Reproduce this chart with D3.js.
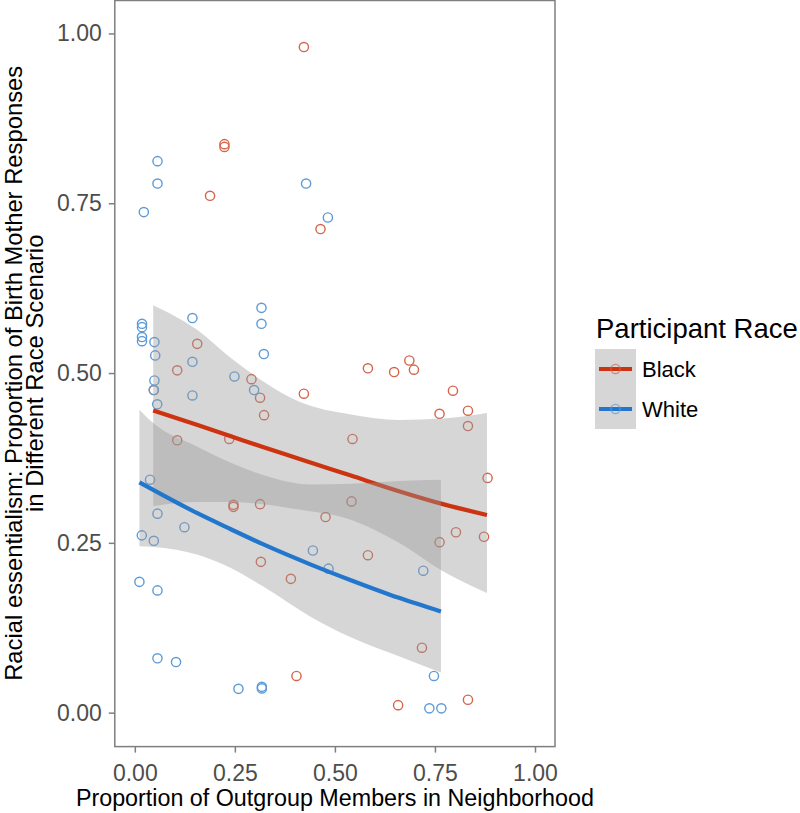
<!DOCTYPE html>
<html><head><meta charset="utf-8">
<script src="https://cdn.jsdelivr.net/npm/d3@7"></script>
<style>body{margin:0;background:#fff} text{font-family:"Liberation Sans",Arial,Helvetica,sans-serif}</style>
</head><body><svg id="c" width="800" height="813"></svg>
<script>
// ---------- data ----------
const groups = ["Black", "White"];
const blackX = [0.0475,0.4225,0.224,0.224,0.188,0.464,0.156,0.106,0.2915,0.313,0.323,0.4225,0.236,0.106,0.5825,0.648,0.686,0.6975,0.795,0.7615,0.8325,0.8325,0.544,0.8815,0.5415,0.2466,0.2466,0.313,0.4766,0.315,0.39,0.404,0.8025,0.7615,0.8725,0.5825,0.7175,0.658,0.8325];
const blackY = [0.475,0.980,0.837,0.833,0.761,0.712,0.543,0.504,0.491,0.4637,0.438,0.4696,0.403,0.401,0.507,0.5015,0.5185,0.505,0.474,0.440,0.4446,0.422,0.403,0.3456,0.311,0.306,0.303,0.307,0.288,0.222,0.197,0.054,0.2656,0.251,0.259,0.2318,0.0956,0.011,0.019];
const whiteX = [0.0567,0.0567,0.0225,0.428,0.4825,0.018,0.018,0.018,0.018,0.049,0.051,0.049,0.0475,0.056,0.144,0.144,0.144,0.249,0.298,0.3165,0.3165,0.3225,0.038,0.0566,0.124,0.0175,0.0475,0.445,0.484,0.0115,0.0566,0.0566,0.103,0.259,0.3175,0.3175,0.7208,0.7475,0.736,0.766];
const whiteY = [0.812,0.779,0.737,0.779,0.729,0.5725,0.5676,0.553,0.547,0.5456,0.526,0.489,0.475,0.454,0.581,0.5166,0.467,0.495,0.475,0.596,0.5725,0.528,0.343,0.293,0.273,0.261,0.253,0.2387,0.212,0.1926,0.180,0.080,0.0745,0.035,0.0357,0.038,0.209,0.054,0.0063,0.0063];

// fitted smooth
const blackFitX = [0.046,0.155,0.24,0.32,0.41,0.54,0.66,0.77,0.88];
const blackFit  = [0.445,0.424,0.407,0.391,0.374,0.349,0.326,0.307,0.291];
const blackHi   = [0.600,0.564,0.522,0.488,0.458,0.439,0.431,0.433,0.441];
const blackLo   = [0.304,0.310,0.310,0.307,0.299,0.284,0.250,0.208,0.176];
const whiteFitX = [0.0115,0.046,0.155,0.24,0.32,0.44,0.54,0.66,0.765];
const whiteFit  = [0.339,0.328,0.294,0.270,0.248,0.218,0.195,0.169,0.149];
const whiteHi   = [0.446,0.4265,0.392,0.368,0.350,0.336,0.337,0.341,0.343];
const whiteLo   = [0.245,0.244,0.233,0.213,0.186,0.141,0.111,0.083,0.059];

const xTicks = [0,0.25,0.5,0.75,1];
const yTicks = [0,0.25,0.5,0.75,1];

const pointColor = {Black:"#D4654A", White:"#5C9BD8"};
const lineColor  = {Black:"#CC3311", White:"#2277CC"};

// ---------- layout ----------
const svg = d3.select("#c");
const L=114.8, R=555, T=-0.5, B=746.6;
const x = d3.scaleLinear().domain([-0.05,1.05]).range([L,R]);
const y = d3.scaleLinear().domain([-0.05,1.05]).range([B,T]);

// points
const pts = [
  ...blackX.map((v,i)=>({g:"Black",x:v,y:blackY[i]})),
  ...whiteX.map((v,i)=>({g:"White",x:v,y:whiteY[i]}))
];
svg.append("g").selectAll("circle").data(pts).join("circle")
  .attr("cx",d=>x(d.x)).attr("cy",d=>y(d.y)).attr("r",4.6)
  .attr("fill","none").attr("stroke",d=>pointColor[d.g]).attr("stroke-width",1.4);

// smooths
const fits = [
  {g:"Black", d: blackFitX.map((v,i)=>({x:v,f:blackFit[i],lo:blackLo[i],hi:blackHi[i]}))},
  {g:"White", d: whiteFitX.map((v,i)=>({x:v,f:whiteFit[i],lo:whiteLo[i],hi:whiteHi[i]}))}
];
const area = d3.area().x(d=>x(d.x)).y0(d=>y(d.lo)).y1(d=>y(d.hi)).curve(d3.curveMonotoneX);
const line = d3.line().x(d=>x(d.x)).y(d=>y(d.f)).curve(d3.curveMonotoneX);
fits.forEach(s=>{
  svg.append("path").attr("d",area(s.d)).attr("fill","#999999").attr("fill-opacity",0.4);
  svg.append("path").attr("d",line(s.d)).attr("fill","none").attr("stroke",lineColor[s.g]).attr("stroke-width",4.2);
});

// panel border
svg.append("rect").attr("x",L).attr("y",0.5).attr("width",R-L).attr("height",B-0.5)
  .attr("fill","none").attr("stroke","#7F7F7F").attr("stroke-width",1.5);

// axes
const fmt = d3.format(".2f");
const gx = svg.append("g").attr("transform",`translate(0,${B})`)
  .call(d3.axisBottom(x).tickValues(xTicks).tickFormat(fmt).tickSize(6).tickPadding(12).tickSizeOuter(0));
const gy = svg.append("g").attr("transform",`translate(${L},0)`)
  .call(d3.axisLeft(y).tickValues(yTicks).tickFormat(fmt).tickSize(6).tickPadding(7).tickSizeOuter(0));
[gx,gy].forEach(g=>{
  g.select(".domain").remove();
  g.selectAll(".tick line").attr("stroke","#7F7F7F").attr("stroke-width",1.5);
  g.selectAll(".tick text").attr("fill","#4D4D4D").style("font-size","23px").style("font-family","'Liberation Sans',Arial,sans-serif");
});

// axis titles
svg.append("text").attr("x",(L+R)/2).attr("y",806).attr("text-anchor","middle")
  .style("font-size","23.3px").attr("fill","#000").text("Proportion of Outgroup Members in Neighborhood");
const yt = svg.append("g").attr("transform",`translate(0,${(0+B)/2}) rotate(-90)`);
yt.append("text").attr("x",0).attr("y",22).attr("text-anchor","middle").style("font-size","23.8px")
  .text("Racial essentialism: Proportion of Birth Mother Responses");
yt.append("text").attr("x",0).attr("y",43).attr("text-anchor","middle").style("font-size","23.8px")
  .text("in Different Race Scenario");

// legend
const lg = svg.append("g");
lg.append("text").attr("x",596).attr("y",338).style("font-size","27.5px").text("Participant Race");
lg.append("rect").attr("x",595).attr("y",349).attr("width",41).attr("height",80).attr("fill","#999999").attr("fill-opacity",0.4);
groups.forEach((g,i)=>{
  const cy = 369 + i*40;
  lg.append("line").attr("x1",599).attr("x2",632).attr("y1",cy).attr("y2",cy)
    .attr("stroke",lineColor[g]).attr("stroke-width",4.2);
  lg.append("circle").attr("cx",615.5).attr("cy",cy).attr("r",4.6).attr("fill","none")
    .attr("stroke",pointColor[g]).attr("stroke-width",1.4).attr("stroke-opacity",0.7);
  lg.append("text").attr("x",642).attr("y",cy+8).style("font-size","22px").text(g);
});
</script></body></html>
